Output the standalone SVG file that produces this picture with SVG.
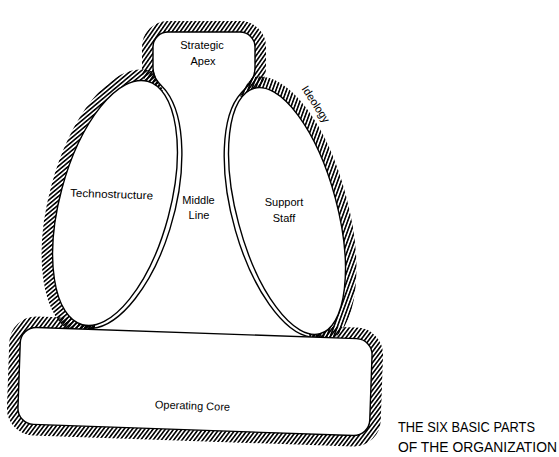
<svg xmlns="http://www.w3.org/2000/svg" width="559" height="457" viewBox="0 0 559 457">
<style>
  .hatch{fill:none;stroke:url(#hatch);stroke-width:22;stroke-linejoin:round}
  .part{fill:#fff;stroke:#000;stroke-width:1.4}
  .line{fill:none;stroke:#000;stroke-width:1.4;stroke-linejoin:round}
  .blank{fill:#fff;stroke:none}
  text{font-family:"Liberation Sans",Arial,Helvetica,sans-serif;font-size:11px;fill:#000;text-anchor:middle}
  .cap{font-size:14px;text-anchor:start}
</style>
<defs>
  <pattern id="hatch" width="3.3" height="10" patternUnits="userSpaceOnUse" patternTransform="rotate(35)">
    <rect width="1.6" height="10" fill="#000"/>
  </pattern>
</defs>
<rect width="559" height="457" fill="#fff"/>

<g id="ideology">
  <path class="hatch" d="M 92.1 350 L 92.1 328.4 A 60 129 15 0 0 166.2 91.2 C 161.4 84.8 153 80 153 68 L 153 47 A 15 15 0 0 1 168 32 L 240 32 A 15 15 0 0 1 255 47 L 255 68 C 255 80 246.2 87.6 240.8 93.4 A 55 130 -15 0 0 310.9 337.1 L 310.9 350 Z"/>
  <ellipse class="hatch" cx="115" cy="203" rx="55" ry="126" transform="rotate(15 115 203)"/>
  <ellipse class="hatch" cx="287" cy="211" rx="50" ry="127" transform="rotate(-15 287 211)"/>
  <rect class="hatch" x="19" y="333" width="352" height="97" rx="16" transform="rotate(2 195 381.5)"/>
  <text transform="translate(316 104) rotate(57)" x="0" y="4">Ideology</text>
</g>

<g id="strategic-apex-middle-line">
  <path class="blank" d="M 153 47 A 15 15 0 0 1 168 32 L 240 32 A 15 15 0 0 1 255 47 L 255 68 L 253 76 L 247 84 L 240 96 L 287 211 L 311 345 L 92 345 L 115 203 L 163 90 L 156 78 L 153 68 Z"/>
  <path class="line" d="M 92.1 350 L 92.1 328.4 A 60 129 15 0 0 166.2 91.2 C 161.4 84.8 153 80 153 68 L 153 47 A 15 15 0 0 1 168 32 L 240 32 A 15 15 0 0 1 255 47 L 255 68 C 255 80 246.2 87.6 240.8 93.4 A 55 130 -15 0 0 310.9 337.1 L 310.9 350"/>
</g>

<g id="strategic-apex">
  <text x="202" y="49">Strategic</text>
  <text x="203" y="65">Apex</text>
</g>

<g id="middle-line">
  <text x="198.5" y="204">Middle</text>
  <text x="199" y="219">Line</text>
</g>

<g id="technostructure">
  <ellipse class="part" cx="115" cy="203" rx="55" ry="126" transform="rotate(15 115 203)"/>
  <text x="111.5" y="198" font-size="11.5" textLength="83" lengthAdjust="spacingAndGlyphs" transform="rotate(2 111.5 195)">Technostructure</text>
</g>

<g id="support-staff">
  <ellipse class="part" cx="287" cy="211" rx="50" ry="127" transform="rotate(-15 287 211)"/>
  <text x="284" y="206">Support</text>
  <text x="284" y="222">Staff</text>
</g>

<g id="operating-core">
  <rect class="part" x="19" y="333" width="352" height="97" rx="16" transform="rotate(2 195 381.5)"/>
  <text x="192.5" y="409.5" transform="rotate(2 192.5 405)">Operating Core</text>
</g>

<g id="connectors"></g>

<g id="caption">
  <text class="cap" x="398" y="431.5" textLength="137" lengthAdjust="spacingAndGlyphs">THE SIX BASIC PARTS</text>
  <text class="cap" x="398" y="452" textLength="159" lengthAdjust="spacingAndGlyphs">OF THE ORGANIZATION</text>
</g>
</svg>
